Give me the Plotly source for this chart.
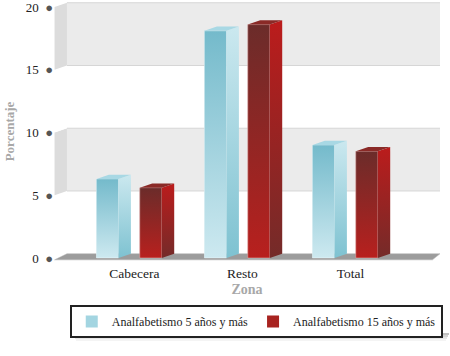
import plotly.graph_objects as go

categories = ["Cabecera", "Resto", "Total"]
series_names = ["Analfabetismo 5 años y más", "Analfabetismo 15 años y más"]
analf_5 = [6.3, 18.1, 9.0]
analf_15 = [5.6, 18.6, 8.5]
y_ticks = [0, 5, 10, 15, 20]

FONT = "Liberation Serif"
X_RANGE = [-0.745, 2.829]
Y_RANGE = [-0.4, 20.56]
DX, DY = 0.115, 0.34        # depth of the 3D effect, in axis units
BAR_W = 0.204
OFFSETS = [-0.25, 0.151]
W, H = 450, 356
M = dict(l=54, r=10, t=0, b=93)

styles = [
    dict(legend="#a3d5e1", front=["#cde9f0", "#74bacb"], side=["#7ec2d1", "#cbe8ef"], top="#a8d8e4"),
    dict(legend="#a82320", front=["#b8201e", "#6b2c2a"], side=["#742b29", "#bb1c1c"], top="#8a2a27"),
]

fig = go.Figure()

# back wall / side wall bands and floor
xl, xr = X_RANGE[0] + 0.005, X_RANGE[1]
shapes = []
for lo in range(0, 20, 5):
    hi = lo + 5
    grey = (lo // 5) % 2 == 1
    back = "#ebebeb" if grey else "#ffffff"
    side = "#dcdcdc" if grey else "#ffffff"
    shapes.append(dict(type="rect", xref="x", yref="y", x0=xl + DX, x1=xr, y0=lo + DY, y1=hi + DY,
                       fillcolor=back, line=dict(width=0), layer="below"))
    shapes.append(dict(type="path", xref="x", yref="y",
                       path=f"M{xl},{lo} L{xl+DX},{lo+DY} L{xl+DX},{hi+DY} L{xl},{hi} Z",
                       fillcolor=side, line=dict(width=0), layer="below"))
for v in y_ticks[1:]:
    shapes.append(dict(type="line", xref="x", yref="y", x0=xl + DX, x1=xr, y0=v + DY, y1=v + DY,
                       line=dict(color="#d6d6d6", width=1), layer="below"))
shapes.append(dict(type="path", xref="x", yref="y",
                   path=f"M{xl},{-0.15} L{xl+DX},{DY} L{xr},{DY} L{xr-0.07},{-0.15} Z",
                   fillcolor="#9c9c9c", line=dict(color="#b5b5b5", width=0.5), layer="below"))

# soft drop shadow under the legend box (paper coordinates relative to plot area)
pw, ph = W - M["l"] - M["r"], H - M["t"] - M["b"]
def px_to_paper_x(px): return (px - M["l"]) / pw
def px_to_paper_y(py): return (H - M["b"] - py) / ph
for i, a in enumerate([0.32, 0.22, 0.13, 0.06]):
    y0, y1 = 333 + 2 * i, 335 + 2 * i
    shapes.append(dict(type="rect", xref="paper", yref="paper",
                       x0=px_to_paper_x(73 + i), x1=px_to_paper_x(449 - i),
                       y0=px_to_paper_y(y1), y1=px_to_paper_y(y0),
                       fillcolor=f"rgba(60,60,60,{a})", line=dict(width=0), layer="above"))

for k, (name, vals) in enumerate(zip(series_names, [analf_5, analf_15])):
    st = styles[k]
    xs = [i + OFFSETS[k] for i in range(len(categories))]
    fig.add_trace(go.Bar(x=xs, y=vals, width=BAR_W, name=name,
                         marker=dict(color=st["legend"], line=dict(width=0)),
                         hoverinfo="skip"))
    for x, v in zip(xs, vals):
        l, r = x - BAR_W / 2, x + BAR_W / 2
        # front face with gradient
        fig.add_trace(go.Scatter(x=[l, r, r, l, l], y=[0, 0, v, v, 0], mode="lines", fill="toself",
                                 line=dict(width=0.6, color="rgba(255,255,255,0.6)"),
                                 fillgradient=dict(type="vertical",
                                                   colorscale=[[0, st["front"][0]], [1, st["front"][1]]]),
                                 showlegend=False, hoverinfo="skip"))
        # side face
        fig.add_trace(go.Scatter(x=[r, r + DX, r + DX, r, r], y=[0, DY, v + DY, v, 0], mode="lines",
                                 fill="toself", line=dict(width=0),
                                 fillgradient=dict(type="vertical",
                                                   colorscale=[[0, st["side"][0]], [1, st["side"][1]]]),
                                 showlegend=False, hoverinfo="skip"))
        # top face
        fig.add_trace(go.Scatter(x=[l, l + DX, r + DX, r, l], y=[v, v + DY, v + DY, v, v], mode="lines",
                                 fill="toself", fillcolor=st["top"], line=dict(width=0),
                                 showlegend=False, hoverinfo="skip"))

fig.update_layout(
    width=W, height=H,
    margin=dict(**M, autoexpand=False),
    paper_bgcolor="white", plot_bgcolor="white",
    barmode="overlay",
    shapes=shapes,
    font=dict(family=FONT, size=13, color="#333333"),
    showlegend=True,
    legend=dict(orientation="h", xref="container", yref="container", x=0.155, y=0.143,
                xanchor="left", yanchor="top",
                bordercolor="#222222", borderwidth=2, bgcolor="white",
                font=dict(family=FONT, size=12, color="#222222"),
                itemwidth=30, tracegroupgap=0),
    xaxis=dict(range=X_RANGE, tickmode="array", tickvals=list(range(len(categories))),
               ticktext=categories, showgrid=False, zeroline=False, showline=False, ticks="",
               title=dict(text="<b>Zona</b>", font=dict(family=FONT, size=14, color="#a8a8a8"), standoff=4),
               tickfont=dict(family=FONT, size=13.5, color="#222222")),
    yaxis=dict(range=Y_RANGE, tickmode="array", tickvals=y_ticks,
               ticktext=[f"{t}  <span style='color:#555'>●</span>" for t in y_ticks],
               showgrid=False, zeroline=False, showline=False, ticks="", ticklabeloverflow="allow",
               tickfont=dict(family=FONT, size=13, color="#222222"),
               title=dict(text="<b>Porcentaje</b>", font=dict(family=FONT, size=13, color="#a8a8a8"), standoff=8)),
)

fig.write_html("out.html", config={"displayModeBar": False},
               post_script="document.body.style.margin='0';")
